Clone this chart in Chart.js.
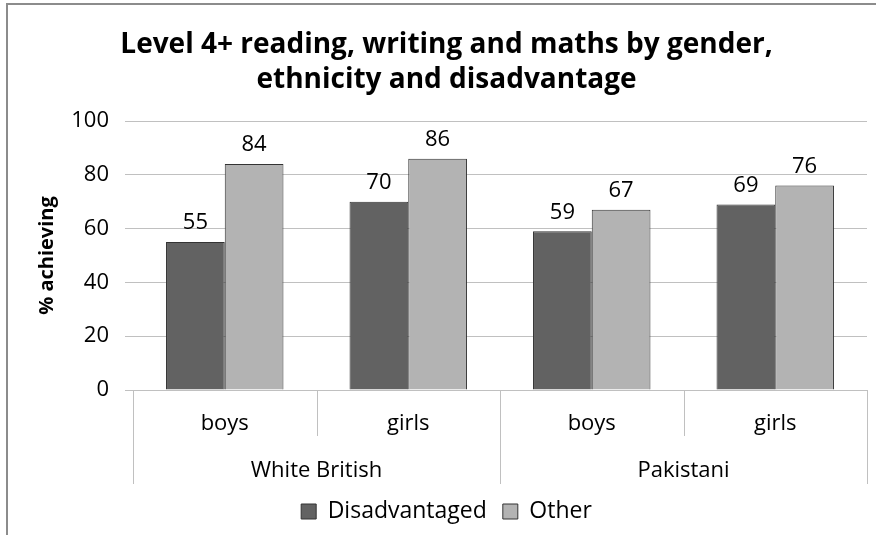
<!DOCTYPE html>
<html>
<head>
<meta charset="utf-8">
<script src="https://cdn.jsdelivr.net/npm/chart.js@4.4.0/dist/chart.umd.min.js"></script>
<style>
  html, body { margin: 0; padding: 0; background: #fff; overflow: hidden; }
  #wrap { position: relative; width: 876px; height: 535px; overflow: hidden; }
  #frame { position: absolute; left: 6px; top: 3px; width: 900px; height: 600px;
           border-left: 2px solid #8c8c8c; border-top: 2px solid #8c8c8c; }
  canvas { position: absolute; left: 0; top: 0; }
</style>
</head>
<body>
<div id="wrap">
  <div id="frame"></div>
  <canvas id="myChart" width="876" height="535"></canvas>
</div>
<script>
const subLabels = ["boys", "girls", "boys", "girls"];
const groups = ["White British", "Pakistani"];
const disadvantaged = [55, 70, 59, 69];
const other = [84, 86, 67, 76];
const yTicks = [0, 20, 40, 60, 80, 100];

const FONT = "'Open Sans', sans-serif";

// draws values above bars, the category separators and the group labels
const extras = {
  id: "extras",
  afterDatasetsDraw(chart) {
    const ctx = chart.ctx;
    ctx.save();
    ctx.fillStyle = "#000";
    ctx.font = "22px " + FONT;
    ctx.textAlign = "center";
    ctx.textBaseline = "middle";
    chart.data.datasets.forEach((ds, i) => {
      chart.getDatasetMeta(i).data.forEach((bar, j) => {
        ctx.fillText(ds.data[j], bar.x, bar.y - 19);
      });
    });

    const x = chart.scales.x;
    const top = x.top;
    const step = x.getPixelForValue(1) - x.getPixelForValue(0);
    ctx.strokeStyle = "#c0c0c0";
    ctx.lineWidth = 1;
    for (let k = 0; k <= subLabels.length; k++) {
      const px = Math.round(x.getPixelForValue(k) - step / 2) + 0.5;
      const outer = k % 2 === 0;
      ctx.beginPath();
      ctx.moveTo(px, top);
      ctx.lineTo(px, top + (outer ? 94 : 46));
      ctx.stroke();
    }
    groups.forEach((g, gi) => {
      const cx = (x.getPixelForValue(gi * 2) + x.getPixelForValue(gi * 2 + 1)) / 2;
      ctx.fillText(g, cx, top + 81);
    });
    ctx.restore();
  },
};

new Chart(document.getElementById("myChart"), {
  type: "bar",
  data: {
    labels: subLabels,
    datasets: [
      {
        label: "Disadvantaged",
        data: disadvantaged,
        backgroundColor: "#626262",
        borderColor: "#333333",
        borderWidth: 1,
      },
      {
        label: "Other",
        data: other,
        backgroundColor: "#b3b3b3",
        borderColor: "#333333",
        borderWidth: 1,
      },
    ],
  },
  options: {
    responsive: false,
    animation: false,
    layout: { padding: { top: 4, right: 9, bottom: 2, left: 26 } },
    datasets: { bar: { categoryPercentage: 0.64, barPercentage: 1 } },
    plugins: {
      title: {
        display: true,
        text: [
          "Level 4+ reading, writing and maths by gender,",
          "ethnicity and disadvantage",
        ],
        color: "#000",
        font: { family: FONT, size: 28, weight: "bold", lineHeight: 1.25 },
        padding: { top: 24, bottom: 23 },
      },
      legend: {
        position: "bottom",
        labels: {
          color: "#000",
          font: { family: FONT, size: 23 },
          boxWidth: 15,
          boxHeight: 15,
          padding: 16,
        },
      },
      tooltip: { enabled: false },
    },
    scales: {
      x: {
        grid: { display: false },
        border: { color: "#c0c0c0" },
        ticks: { color: "#000", font: { family: FONT, size: 22 }, padding: 13 },
        afterFit(scale) {
          scale.height = 94;
        },
      },
      y: {
        min: 0,
        max: 100,
        afterBuildTicks(scale) {
          scale.ticks = yTicks.map((v) => ({ value: v }));
        },
        grid: { color: "#c0c0c0", tickLength: 8 },
        border: { display: false },
        ticks: { color: "#000", font: { family: FONT, size: 22 }, padding: 16 },
        title: {
          display: true,
          text: "% achieving",
          color: "#000",
          font: { family: FONT, size: 20, weight: "bold" },
          padding: { top: 9, bottom: 0 },
        },
        afterFit(scale) {
          scale.width = 107;
        },
      },
    },
  },
  plugins: [extras],
});
</script>
</body>
</html>
